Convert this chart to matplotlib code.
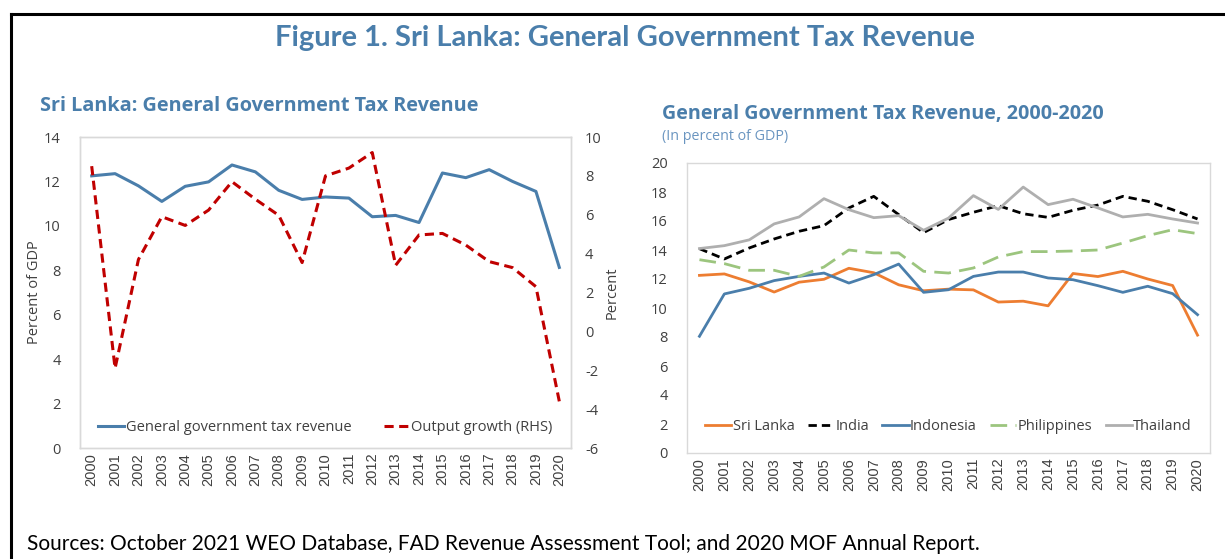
import matplotlib
matplotlib.use("Agg")
import matplotlib.pyplot as plt
from matplotlib.lines import Line2D

plt.rcParams["axes.unicode_minus"] = False

years = [str(y) for y in range(2000, 2021)]

sri_lanka = [12.25, 12.35, 11.8, 11.1, 11.78, 11.98, 12.74, 12.43, 11.6, 11.19, 11.3,
             11.25, 10.41, 10.47, 10.15, 12.38, 12.17, 12.53, 12.0, 11.55, 8.13]
output_growth = [8.5, -1.9, 3.7, 5.9, 5.45, 6.24, 7.7, 6.8, 5.97, 3.54, 8.0,
                 8.4, 9.2, 3.4, 4.96, 5.04, 4.44, 3.59, 3.28, 2.3, -3.6]
india = [14.09, 13.38, 14.14, 14.76, 15.29, 15.68, 16.9, 17.7, 16.44, 15.2, 16.1,
         16.6, 17.06, 16.5, 16.25, 16.74, 17.1, 17.7, 17.36, 16.78, 16.14]
indonesia = [8.05, 10.97, 11.36, 11.89, 12.18, 12.41, 11.72, 12.3, 13.03, 11.08, 11.26,
             12.18, 12.48, 12.48, 12.07, 11.95, 11.54, 11.08, 11.5, 10.99, 9.54]
philippines = [13.33, 13.06, 12.6, 12.6, 12.18, 12.83, 14.0, 13.8, 13.8, 12.53, 12.41,
               12.76, 13.52, 13.89, 13.89, 13.93, 14.0, 14.48, 14.99, 15.4, 15.13]
thailand = [14.1, 14.3, 14.7, 15.8, 16.28, 17.54, 16.78, 16.23, 16.37, 15.36, 16.2,
            17.75, 16.8, 18.34, 17.13, 17.5, 16.9, 16.28, 16.46, 16.14, 15.86]

left_yticks = [0, 2, 4, 6, 8, 10, 12, 14]
rhs_yticks = [-6, -4, -2, 0, 2, 4, 6, 8, 10]
right_yticks = [0, 2, 4, 6, 8, 10, 12, 14, 16, 18, 20]

TITLE_BLUE = "#4A7EAB"
TICK_COL = "#404040"
SPINE_COL = "#D9D9D9"
x = list(range(len(years)))

fig = plt.figure(figsize=(12.25, 5.59), dpi=100)

# outer border
fig.add_artist(Line2D([11/1225, 1.0], [1 - 13.5/559, 1 - 13.5/559], color="black", lw=2.2,
                      transform=fig.transFigure))
fig.add_artist(Line2D([11/1225, 11/1225], [0, 1 - 13.5/559], color="black", lw=2.2,
                      transform=fig.transFigure))

fig.text(625/1225, 1 - 38/559, "Figure 1. Sri Lanka: General Government Tax Revenue",
         ha="center", va="center", fontsize=21, fontweight="bold", color=TITLE_BLUE,
         family="Lato")
fig.text(40/1225, 1 - 106/559, "Sri Lanka: General Government Tax Revenue",
         ha="left", va="center", fontsize=14.3, fontweight="bold", color=TITLE_BLUE,
         family="Open Sans")
fig.text(662/1225, 1 - 114/559, "General Government Tax Revenue, 2000-2020",
         ha="left", va="center", fontsize=14.2, fontweight="bold", color=TITLE_BLUE,
         family="Open Sans")
fig.text(662/1225, 1 - 136/559, "(In percent of GDP)",
         ha="left", va="center", fontsize=10.3, color="#6A95C0", family="Open Sans")
fig.text(27/1225, 1 - 544/559,
         "Sources: October 2021 WEO Database, FAD Revenue Assessment Tool; and 2020 MOF Annual Report.",
         ha="left", va="center", fontsize=15, color="black", family="Lato")


def style_axes(ax):
    for s in ax.spines.values():
        s.set_color(SPINE_COL)
        s.set_linewidth(1.0)
    ax.tick_params(length=0, colors=TICK_COL, labelsize=10.5)
    ax.set_xlim(-0.5, len(years) - 0.5)
    ax.set_xticks(x)
    ax.set_xticklabels(years, rotation=90, family="Liberation Sans", fontsize=10.5,
                       color=TICK_COL)


# Left chart
axL = fig.add_axes([80/1225, 1 - 448/559, 491/1225, 311/559])
axR = axL.twinx()
l1, = axL.plot(x, sri_lanka, color="#4A7EAB", lw=2.2, label="General government tax revenue")
l2, = axR.plot(x, output_growth, color="#C00000", lw=2.2, ls=(0, (3, 1.8)),
               label="Output growth (RHS)")
axL.set_ylim(0, 14)
axL.set_yticks(left_yticks)
axR.set_ylim(-6, 10)
axR.set_yticks(rhs_yticks)
style_axes(axL)
style_axes(axR)
axL.tick_params(axis="y", pad=14)
axR.tick_params(axis="y", pad=10)
for lab in axL.get_yticklabels() + axR.get_yticklabels():
    lab.set_family("Open Sans")
axL.set_ylabel("Percent of GDP", family="Open Sans", fontsize=10.5, color=TICK_COL, labelpad=1)
axR.set_ylabel("Percent", family="Open Sans", fontsize=10.5, color=TICK_COL, labelpad=2)
axL.legend(handles=[l1, l2], loc="lower center", ncol=2, frameon=False,
           bbox_to_anchor=(0.5, 0.0), prop={"family": "Open Sans", "size": 10.5},
           handlelength=1.8, handletextpad=0.1, columnspacing=2.2, labelcolor=TICK_COL)

# Right chart
ax2 = fig.add_axes([687/1225, 1 - 453/559, 523/1225, 290/559])
h1, = ax2.plot(x, sri_lanka, color="#ED7D31", lw=2.0, label="Sri Lanka")
h2, = ax2.plot(x, india, color="black", lw=2.0, ls=(0, (3, 1.8)), label="India")
h3, = ax2.plot(x, indonesia, color="#4A7EAB", lw=2.0, label="Indonesia")
h4, = ax2.plot(x, philippines, color="#9CC57E", lw=2.0, ls=(0, (6, 3)), label="Philippines")
h5, = ax2.plot(x, thailand, color="#AFAFAF", lw=2.0, label="Thailand")
ax2.set_ylim(0, 20)
ax2.set_yticks(right_yticks)
style_axes(ax2)
for lab in ax2.get_yticklabels():
    lab.set_family("Open Sans")
ax2.tick_params(axis="y", pad=14)
ax2.legend(handles=[h1, h2, h3, h4, h5], loc="lower center", ncol=5, frameon=False,
           bbox_to_anchor=(0.5, 0.02), prop={"family": "Open Sans", "size": 10.5},
           handlelength=1.8, handletextpad=0.1, columnspacing=0.9, labelcolor=TICK_COL)

fig.savefig("out.png", dpi=100)
